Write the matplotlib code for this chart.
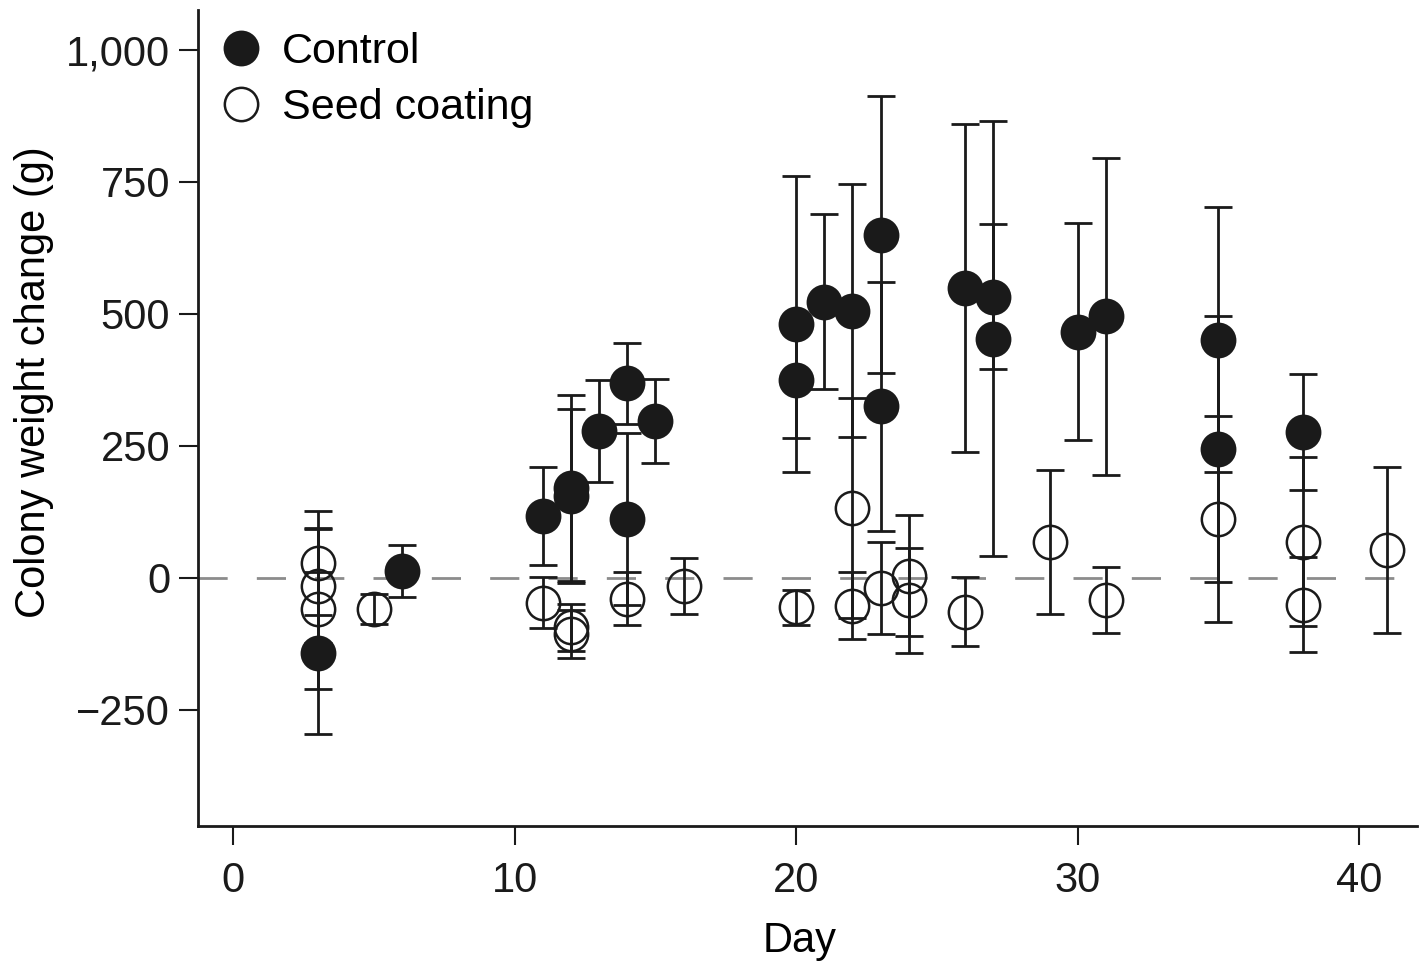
import matplotlib.pyplot as plt
from matplotlib.ticker import FuncFormatter

plt.rcParams['font.family'] = ['Liberation Sans', 'DejaVu Sans']

# control colonies: day, mean weight change, error
control_day = [3, 6, 11, 12, 12, 13, 14, 14, 15, 20, 20, 21, 22, 23, 23, 26, 27, 27, 30, 31, 35, 35, 38]
control_mean = [-142, 13, 117, 170, 155, 278, 368, 111, 297, 481, 374, 523, 506, 650, 325, 549, 532, 453, 466, 495, 451, 244, 276]
control_err = [153, 50, 93, 177, 165, 97, 76, 163, 80, 280, 110, 166, 240, 262, 236, 310, 137, 412, 205, 300, 251, 252, 109]

# seed coating colonies
seed_day = [3, 3, 3, 5, 11, 12, 12, 14, 16, 20, 22, 22, 23, 24, 24, 26, 29, 31, 35, 38, 38, 41]
seed_mean = [28, -15, -59, -59, -47, -94, -106, -40, -15, -56, 132, -53, -19, 4, -43, -64, 68, -42, 111, 68, -51, 53]
seed_err = [99, 109, 152, 28, 48, 45, 45, 50, 53, 33, 208, 63, 87, 115, 100, 66, 136, 62, 195, 160, 90, 157]

yticks = [-250, 0, 250, 500, 750, 1000]
xticks = [0, 10, 20, 30, 40]

fig = plt.figure(figsize=(14.19, 9.61), dpi=100)
ax = fig.add_axes([0.1395, 0.1405, 0.859, 0.849])

ax.axhline(0, color='#8c8c8c', lw=2, dashes=(10.5, 10.5), zorder=1)

ebkw = dict(fmt='none', ecolor='#1a1a1a', elinewidth=2, capsize=10, capthick=2, zorder=2)
ax.errorbar(control_day, control_mean, yerr=control_err, **ebkw)
ax.errorbar(seed_day, seed_mean, yerr=seed_err, **ebkw)

ax.plot(control_day, control_mean, 'o', ms=24, mfc='#1a1a1a', mec='#1a1a1a', mew=1.8,
        ls='none', zorder=3, label='Control')
ax.plot(seed_day, seed_mean, 'o', ms=24, mfc='none', mec='#1a1a1a', mew=1.8,
        ls='none', zorder=3, label='Seed coating')

ax.set_xlim(-1.25, 42.05)
ax.set_ylim(-470, 1075)
ax.set_xticks(xticks)
ax.set_yticks(yticks)
ax.yaxis.set_major_formatter(FuncFormatter(lambda v, p: f"{v:,.0f}".replace('-', '\u2212')))

for s in ['top', 'right']:
    ax.spines[s].set_visible(False)
for s in ['left', 'bottom']:
    ax.spines[s].set_linewidth(2)
    ax.spines[s].set_color('#1a1a1a')
ax.tick_params(direction='out', length=14, width=1.5, labelsize=30, colors='#1a1a1a', pad=6)
ax.tick_params(axis='x', pad=11)

ax.set_xlabel('Day', fontsize=30)
ax.set_ylabel('Colony weight change (g)', fontsize=30)
ax.xaxis.set_label_coords(0.494, -0.117)
ax.yaxis.set_label_coords(-0.118, 0.544)

ax.legend(loc='upper left', frameon=False, fontsize=31, handletextpad=0.45,
          borderaxespad=0.15, labelspacing=0.38, borderpad=0.35, markerscale=1.0,
          handlelength=1.0)

fig.savefig('out.png', dpi=100)
